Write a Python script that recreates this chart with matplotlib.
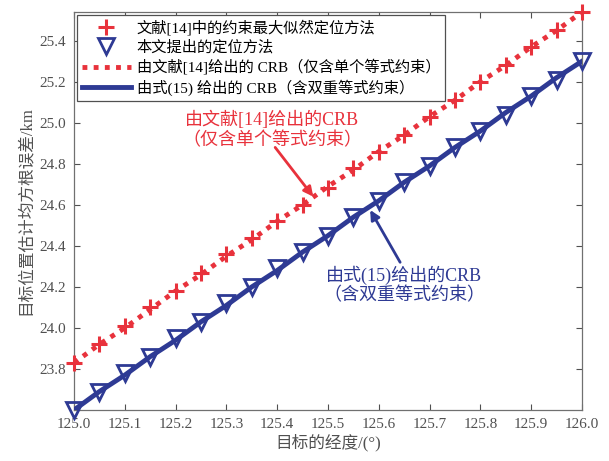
import numpy as np
import matplotlib.pyplot as plt

plt.rcParams['font.family'] = ['Liberation Serif', 'Noto Sans CJK SC']
plt.rcParams['axes.unicode_minus'] = False

RED = "#e8323c"
BLUE = "#2e3a94"
GRAY = "#505050"

# target longitude (deg)
lon = [125.00, 125.05, 125.10, 125.15, 125.20, 125.25, 125.30, 125.35, 125.40, 125.45, 125.50,
       125.55, 125.60, 125.65, 125.70, 125.75, 125.80, 125.85, 125.90, 125.95, 126.00]

# RMSE of the constrained ML method from ref [14] (km)
rmse_ref14 = [23.83, 23.92, 24.01, 24.10, 24.18, 24.27, 24.36, 24.44, 24.52, 24.60, 24.68,
              24.78, 24.86, 24.94, 25.03, 25.11, 25.20, 25.28, 25.37, 25.45, 25.54]
# RMSE of the proposed method (km)
rmse_prop = [23.60, 23.69, 23.78, 23.86, 23.95, 24.03, 24.12, 24.20, 24.29, 24.37, 24.45,
             24.54, 24.62, 24.71, 24.79, 24.88, 24.96, 25.04, 25.13, 25.21, 25.30]
# CRB, single equality constraint (ref [14])
crb_single = [23.83, 23.92, 24.00, 24.09, 24.18, 24.26, 24.35, 24.43, 24.52, 24.60, 24.69,
              24.77, 24.86, 24.94, 25.03, 25.11, 25.20, 25.28, 25.37, 25.45, 25.54]
# CRB, double equality constraints (eq. 15)
crb_double = [23.60, 23.69, 23.77, 23.86, 23.94, 24.03, 24.11, 24.20, 24.28, 24.37, 24.45,
              24.54, 24.62, 24.71, 24.79, 24.88, 24.96, 25.05, 25.13, 25.22, 25.30]

xticks = [125.0, 125.1, 125.2, 125.3, 125.4, 125.5, 125.6, 125.7, 125.8, 125.9, 126.0]
yticks = [23.8, 24.0, 24.2, 24.4, 24.6, 24.8, 25.0, 25.2, 25.4]

fig = plt.figure(figsize=(6.09, 4.61), dpi=100)
ax = fig.add_axes([74 / 609, 1 - 410 / 461, 508 / 609, 398 / 461])

h1, = ax.plot(lon, rmse_ref14, ls="none", marker="+", ms=11, mew=2.2, color=RED,
              clip_on=False, zorder=4, label="文献[14]中的约束最大似然定位方法")
h2, = ax.plot(lon, rmse_prop, ls="none", marker="v", ms=11, mew=2.0, mfc="none", mec=BLUE,
              clip_on=False, zorder=4, label="本文提出的定位方法")
h3, = ax.plot(lon, crb_single, ls=(0, (1, 1.3)), lw=3.5, color=RED, zorder=3,
              label="由文献[14]给出的 CRB（仅含单个等式约束）")
h4, = ax.plot(lon, crb_double, ls="-", lw=3.5, color=BLUE, zorder=3,
              label="由式(15) 给出的 CRB（含双重等式约束）")

ax.set_xlim(125.0, 126.0)
ax.set_ylim(23.6, 25.54)
ax.set_xticks(xticks)
ax.set_xticklabels([f"{v:.1f}" for v in xticks])
ax.set_yticks(yticks)
ax.set_yticklabels([f"{v:.1f}" for v in yticks])
ax.tick_params(direction="in", top=True, right=True, length=4, width=0.8,
               colors=GRAY, labelsize=11, pad=6)
for s in ax.spines.values():
    s.set_color("#707070")
    s.set_linewidth(0.9)

ax.set_xlabel("目标的经度/(°)", fontsize=12, color=GRAY, labelpad=2)
ax.set_ylabel("目标位置估计均方根误差/km", fontsize=12, color=GRAY, labelpad=4)

leg = ax.legend(handles=[h1, h2, h3, h4], loc="upper left", bbox_to_anchor=(0.0, 1.0),
                borderaxespad=0.2, fontsize=11, handlelength=3.2, handletextpad=0.4,
                labelspacing=0.3, borderpad=0.3, fancybox=False, framealpha=1,
                edgecolor="#505050")
leg.get_frame().set_linewidth(0.9)

# labels and arrows pointing at the two CRB curves
ax.text(125.39, 24.965, "由文献[14]给出的CRB\n（仅含单个等式约束）", ha="center", va="center",
        fontsize=13, color=RED, linespacing=1.15)
ax.annotate("", xy=(125.471, 24.64), xytext=(125.396, 24.88),
            arrowprops=dict(arrowstyle="-|>", color=RED, lw=2, mutation_scale=14,
                            shrinkA=0, shrinkB=0))
ax.text(125.65, 24.21, "由式(15)给出的CRB\n（含双重等式约束）", ha="center", va="center",
        fontsize=13, color=BLUE, linespacing=1.15)
ax.annotate("", xy=(125.583, 24.575), xytext=(125.642, 24.32),
            arrowprops=dict(arrowstyle="-|>", color=BLUE, lw=2, mutation_scale=14,
                            shrinkA=0, shrinkB=0))

fig.savefig("out.png", dpi=100)
